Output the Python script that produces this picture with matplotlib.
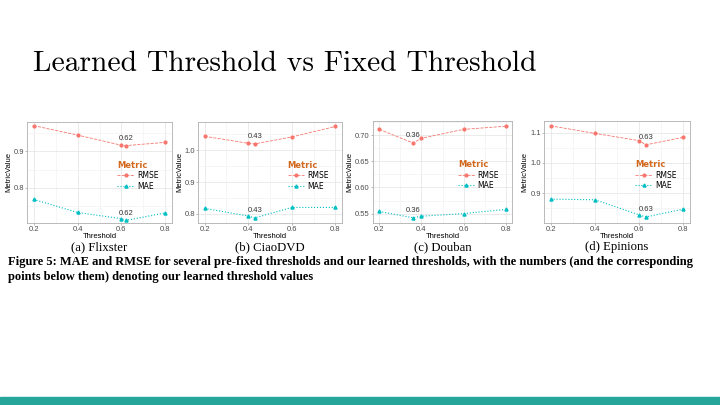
"""
Learned vs fixed threshold slide: four small ggplot-style panels
(RMSE / MAE against threshold) with captions under them.
"""

import matplotlib.pyplot as plt
from matplotlib.ticker import MultipleLocator

# thresholds tried per dataset (learned one inserted in order)
thresholds = {
    "Flixster": [0.2, 0.4, 0.6, 0.62, 0.8],
    "CiaoDVD": [0.2, 0.4, 0.43, 0.6, 0.8],
    "Douban": [0.2, 0.36, 0.4, 0.6, 0.8],
    "Epinions": [0.2, 0.4, 0.6, 0.63, 0.8],
}
rmse = {
    "Flixster": [0.971, 0.945, 0.917, 0.916, 0.925],
    "CiaoDVD": [1.044, 1.022, 1.020, 1.042, 1.075],
    "Douban": [0.711, 0.685, 0.694, 0.711, 0.717],
    "Epinions": [1.123, 1.098, 1.074, 1.060, 1.085],
}
mae = {
    "Flixster": [0.768, 0.732, 0.715, 0.710, 0.731],
    "CiaoDVD": [0.817, 0.793, 0.787, 0.820, 0.820],
    "Douban": [0.554, 0.542, 0.545, 0.550, 0.558],
    "Epinions": [0.880, 0.878, 0.828, 0.821, 0.847],
}
learned = {"Flixster": 0.62, "CiaoDVD": 0.43, "Douban": 0.36, "Epinions": 0.63}
captions = ["(a) Flixster", "(b) CiaoDVD", "(c) Douban", "(d) Epinions"]
fig_caption = [
    "Figure 5: MAE and RMSE for several pre-fixed thresholds and our learned thresholds, with the numbers (and the corresponding",
    "points below them) denoting our learned threshold values",
]

W, H = 720, 405
RED = "#F8766D"
TEAL = "#00BFC4"

# panel boxes in pixels: left, top, right, bottom, ylim, y tick step
panels = {
    "Flixster": (27, 122, 172, 223, (0.703, 0.981), 0.1),
    "CiaoDVD": (198, 122, 342, 223, (0.771, 1.089), 0.1),
    "Douban": (373, 121, 512, 223, (0.532, 0.727), 0.05),
    "Epinions": (544, 121, 690, 223, (0.801, 1.139), 0.1),
}

fig = plt.figure(figsize=(W / 100, H / 100), dpi=100)
fig.patch.set_facecolor("white")

fig.text(33 / W, 1 - 71 / H, "Learned Threshold vs Fixed Threshold",
         family="cmr10", fontsize=21.3, color="black", va="baseline")

for (name, (l, t, r, b, ylim, step)), cap in zip(panels.items(), captions):
    ax = fig.add_axes([l / W, 1 - b / H, (r - l) / W, (b - t) / H])
    x = thresholds[name]
    ax.plot(x, rmse[name], color=RED, ls="--", lw=0.6, marker="o", ms=2, label="RMSE")
    ax.plot(x, mae[name], color=TEAL, ls=":", lw=0.8, marker="^", ms=2.2, label="MAE")

    i = x.index(learned[name])
    for series in (rmse, mae):
        ax.annotate(f"{learned[name]:.2f}", (x[i], series[name][i]),
                    xytext=(0, 2.5), textcoords="offset points", ha="center",
                    va="bottom", fontsize=5.5, color="#333333", family="Liberation Sans")

    ax.set_xlim(0.17, 0.83)
    ax.set_ylim(*ylim)
    ax.xaxis.set_major_locator(MultipleLocator(0.2))
    ax.xaxis.set_minor_locator(MultipleLocator(0.1))
    ax.yaxis.set_major_locator(MultipleLocator(step))
    ax.yaxis.set_minor_locator(MultipleLocator(step / 2))
    ax.xaxis.set_major_formatter(plt.FuncFormatter(lambda v, p: f"{v:.1f}"))
    fmt = "{:.2f}" if step < 0.1 else "{:.1f}"
    ax.yaxis.set_major_formatter(plt.FuncFormatter(lambda v, p, f=fmt: f.format(v)))
    ax.grid(which="major", color="#e3e3e3", lw=0.5)
    ax.grid(which="minor", color="#f0f0f0", lw=0.4)
    ax.set_axisbelow(True)
    for s in ax.spines.values():
        s.set_color("#b0b0b0")
        s.set_linewidth(0.6)
    ax.tick_params(which="both", length=1.5, width=0.4, color="#888888",
                   labelsize=5.5, labelcolor="#4d4d4d", pad=0.8)
    ax.tick_params(which="minor", length=0)
    for lab in ax.get_xticklabels() + ax.get_yticklabels():
        lab.set_family("Liberation Sans")
    ax.set_xlabel("Threshold", fontsize=5.5, family="Liberation Sans", labelpad=0)
    ax.set_ylabel("MetricValue", fontsize=5.5, family="Liberation Sans", labelpad=1)

    leg = ax.legend(title="Metric", loc="center right", bbox_to_anchor=(0.93, 0.47),
                    frameon=False, fontsize=5.5, handlelength=2.2, handletextpad=0.4,
                    labelspacing=0.2, borderaxespad=0)
    leg.get_title().set_color("#d2691e")
    leg.get_title().set_fontweight("bold")
    leg.get_title().set_fontsize(6)
    leg._legend_box.align = "left"

    fig.text((l + r) / 2 / W, 1 - 247 / H, cap, ha="center", va="center",
             family="Liberation Serif", fontsize=9.2)

for k, line in enumerate(fig_caption):
    fig.text(8 / W, 1 - (262 + 15 * k) / H, line, ha="left", va="center",
             family="Liberation Serif", fontweight="bold", fontsize=9.0)

fig.patches.append(plt.Rectangle((0, 0), 1, 8.5 / H, transform=fig.transFigure,
                                 color="#26a69a", zorder=0))

plt.savefig("out.png", dpi=100)
plt.close()
